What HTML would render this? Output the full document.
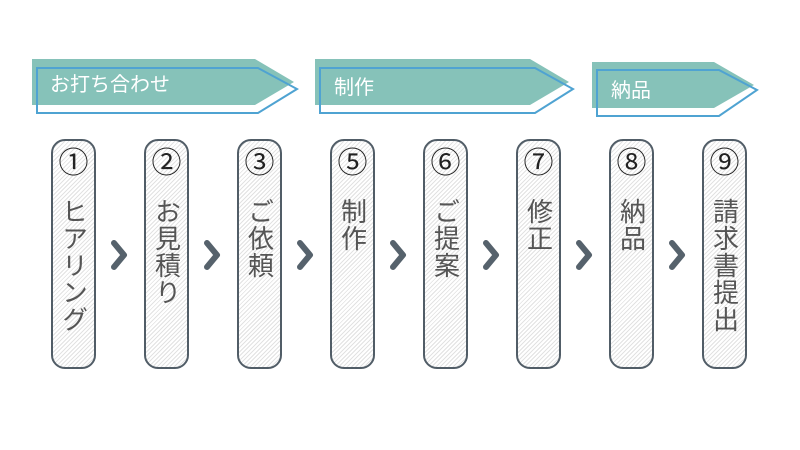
<!DOCTYPE html>
<html><head><meta charset="utf-8"><style>
body{margin:0;width:800px;height:450px;background:#fff;position:relative;overflow:hidden;font-family:"Liberation Sans","Noto Sans CJK JP",sans-serif}
.pill{position:absolute;top:139px;width:41px;height:226px;border:2.5px solid #515d67;border-radius:14px;
background:repeating-linear-gradient(135deg,#fff 0 2px,#e2e2e2 2px 3px);box-sizing:content-box}
.num{position:absolute;left:50%;top:7px;transform:translateX(-50%);font-size:30px;line-height:32px;color:#222}
.txt{position:absolute;left:50%;top:57px;transform:translateX(-50%);writing-mode:vertical-rl;font-size:26px;line-height:28px;color:#555;letter-spacing:1px}
.bt{position:absolute;color:#fff;font-size:20px}
</style></head><body>
<svg width="800" height="450" style="position:absolute;left:0;top:0">
<g>
<polygon points="32,59 255,59 294,82 255,105 32,105" fill="#86c2b9"/>
<polygon points="37,68 258,68 297,89 258,113 37,113" fill="none" stroke="#4fa3d2" stroke-width="2"/>
<polygon points="315,59 530,59 569,82 530,105 315,105" fill="#86c2b9"/>
<polygon points="320,68 535,68 573,89 535,113 320,113" fill="none" stroke="#4fa3d2" stroke-width="2"/>
<polygon points="592,62 714,62 754,85 714,108 592,108" fill="#86c2b9"/>
<polygon points="597,70 719,70 757,90 719,116 597,116" fill="none" stroke="#4fa3d2" stroke-width="2"/>
</g>
<g fill="none" stroke="#56626c" stroke-width="6" stroke-linecap="round" stroke-linejoin="round">
<polyline points="114,243 124,255 114,267"/>
<polyline points="207,243 217,255 207,267"/>
<polyline points="300,243 310,255 300,267"/>
<polyline points="393,243 403,255 393,267"/>
<polyline points="486,243 496,255 486,267"/>
<polyline points="579,243 589,255 579,267"/>
<polyline points="672,243 682,255 672,267"/>
</g>
</svg>
<div class="bt" style="left:50px;top:68px">お打ち合わせ</div>
<div class="bt" style="left:334px;top:71px">制作</div>
<div class="bt" style="left:611px;top:74px">納品</div>

<div class="pill" style="left:51px"><div class="num">①</div><div class="txt">ヒアリング</div></div>
<div class="pill" style="left:144px"><div class="num">②</div><div class="txt">お見積り</div></div>
<div class="pill" style="left:237px"><div class="num">③</div><div class="txt">ご依頼</div></div>
<div class="pill" style="left:330px"><div class="num">⑤</div><div class="txt">制作</div></div>
<div class="pill" style="left:423px"><div class="num">⑥</div><div class="txt">ご提案</div></div>
<div class="pill" style="left:516px"><div class="num">⑦</div><div class="txt">修正</div></div>
<div class="pill" style="left:609px"><div class="num">⑧</div><div class="txt">納品</div></div>
<div class="pill" style="left:702px"><div class="num">⑨</div><div class="txt">請求書提出</div></div>
</body></html>
